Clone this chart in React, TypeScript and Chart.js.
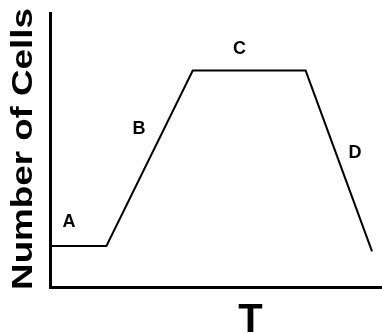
import React, { useEffect, useRef } from "react";
import { Chart, registerables } from "chart.js";

Chart.register(...registerables);

// Growth curve (time vs number of cells)
const timeValues = [0, 17, 43, 77, 97];
const cellValues = [15, 15, 79, 79, 13];

// Phase labels and where they sit (in data units)
const phaseLabels = ["A", "B", "C", "D"];
const phaseX = [5.7, 26.8, 57.1, 91.9];
const phaseY = [23.7, 57.7, 87.0, 48.9];

const xTitle = "T";
const yTitle = "Number of Cells";

const FONT = "'Liberation Sans', Arial, Helvetica, sans-serif";

const labelPlugin = {
  id: "labelPlugin",
  afterDraw(chart: any) {
    const ctx = chart.ctx as CanvasRenderingContext2D;
    const xs = chart.scales.x;
    const ys = chart.scales.y;
    ctx.save();
    ctx.fillStyle = "#000";
    ctx.textAlign = "center";
    ctx.textBaseline = "middle";
    ctx.font = `bold 18px ${FONT}`;
    phaseLabels.forEach((t, i) => {
      ctx.fillText(t, xs.getPixelForValue(phaseX[i]), ys.getPixelForValue(phaseY[i]));
    });

    // x title
    ctx.font = `bold 40px ${FONT}`;
    ctx.textBaseline = "alphabetic";
    ctx.fillText(xTitle, 250.5, 332);

    // y title (rotated, stretched along its baseline)
    ctx.save();
    ctx.translate(32, 149);
    ctx.rotate(-Math.PI / 2);
    ctx.scale(1.225, 1);
    ctx.font = `bold 30px ${FONT}`;
    ctx.textAlign = "center";
    ctx.textBaseline = "alphabetic";
    ctx.fillText(yTitle, 0, 0);
    ctx.restore();

    ctx.restore();
  },
};

export default function App() {
  const ref = useRef<HTMLCanvasElement | null>(null);

  useEffect(() => {
    document.body.style.margin = "0";
    document.body.style.background = "#fff";
    if (!ref.current) return;
    const chart = new Chart(ref.current, {
      type: "line",
      data: {
        datasets: [
          {
            data: timeValues.map((t, i) => ({ x: t, y: cellValues[i] })),
            borderColor: "#000",
            borderWidth: 2,
            pointRadius: 0,
            tension: 0,
            fill: false,
          },
        ],
      },
      options: {
        responsive: false,
        animation: false,
        layout: { padding: { left: 50, right: 0, top: 13, bottom: 46 } },
        plugins: {
          legend: { display: false },
          tooltip: { enabled: false },
        },
        scales: {
          x: {
            type: "linear",
            min: 0,
            max: 100,
            grid: { display: false, drawTicks: false },
            ticks: { display: false },
            border: { display: true, color: "#000", width: 3 },
          },
          y: {
            type: "linear",
            min: 0,
            max: 100,
            grid: { display: false, drawTicks: false },
            ticks: { display: false },
            border: { display: true, color: "#000", width: 3 },
          },
        },
      },
      plugins: [labelPlugin],
    });
    return () => chart.destroy();
  }, []);

  return (
    <div style={{ width: 382, height: 333, background: "#fff" }}>
      <canvas ref={ref} width={382} height={333} style={{ display: "block" }} />
    </div>
  );
}
